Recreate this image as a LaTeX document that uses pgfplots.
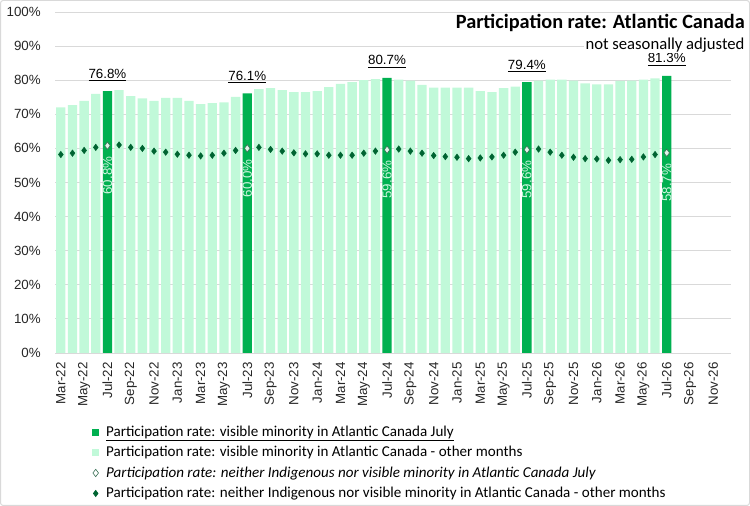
\documentclass[border=0pt]{standalone}
\usepackage{fontspec}
\setmainfont{Carlito}
\newfontfamily\arialf{Liberation Sans}
\usepackage{pgfplots}
\usepackage{pgfplotstable}
\pgfplotsset{compat=1.18}
\definecolor{lightbar}{RGB}{193,249,217}
\definecolor{darkbar}{RGB}{0,176,80}
\definecolor{darkdia}{RGB}{0,100,50}
\definecolor{gridgray}{RGB}{217,217,217}
\definecolor{julydia}{RGB}{222,246,232}
\definecolor{inlbl}{RGB}{205,245,222}

\pgfplotstableread{
x y
0 72.0
1 72.7
2 73.9
3 76.0
5 77.1
6 75.3
7 74.7
8 73.9
9 74.8
10 74.8
11 73.9
12 73.0
13 73.3
14 73.5
15 75.1
17 77.4
18 77.7
19 77.1
20 76.5
21 76.5
22 76.8
23 78.0
24 78.9
25 79.4
26 80.0
27 80.3
29 80.2
30 79.9
31 78.6
32 77.8
33 77.8
34 77.8
35 77.8
36 76.8
37 76.5
38 77.7
39 78.1
41 79.9
42 80.2
43 80.2
44 79.9
45 79.1
46 78.8
47 78.8
48 79.8
49 79.9
50 80.2
51 80.5
}\otherbars

\pgfplotstableread{
x y
4 76.8
16 76.1
28 80.7
40 79.4
52 81.3
}\julybars

\pgfplotstableread{
x y
0 58.2
1 58.6
2 59.4
3 60.3
5 61.0
6 60.3
7 60.0
8 59.2
9 58.9
10 58.3
11 58.0
12 57.8
13 58.0
14 58.6
15 59.4
17 60.3
18 59.7
19 59.2
20 58.7
21 58.4
22 58.4
23 58.0
24 58.0
25 58.0
26 58.6
27 59.2
29 59.8
30 59.2
31 58.6
32 57.9
33 57.6
34 57.4
35 57.0
36 57.2
37 57.5
38 58.0
39 58.9
41 59.8
42 58.9
43 58.0
44 57.4
45 57.0
46 56.9
47 56.5
48 56.7
49 56.8
50 57.5
51 58.2
}\otherdia

\pgfplotstableread{
x y
4 60.8
16 60.0
28 59.6
40 59.6
52 58.7
}\julydiatab

\begin{document}
\begin{tikzpicture}
\begin{axis}[
  at={(41.25pt,114.75pt)}, anchor=south west,
  scale only axis, width=506.85pt, height=255.75pt,
  xmin=-0.5, xmax=57.5, ymin=0, ymax=100,
  axis line style={draw=none},
  tick style={draw=none},
  ymajorgrids, grid style={gridgray, line width=0.6pt},
  ytick={0,10,...,100},
  yticklabel={\pgfmathprintnumber{\tick}\%},
  /pgf/number format/assume math mode=true,
  xtick={0,2,...,56},
  xticklabels={Mar-22,May-22,Jul-22,Sep-22,Nov-22,Jan-23,Mar-23,May-23,Jul-23,Sep-23,Nov-23,Jan-24,Mar-24,May-24,Jul-24,Sep-24,Nov-24,Jan-25,Mar-25,May-25,Jul-25,Sep-25,Nov-25,Jan-26,Mar-26,May-26,Jul-26,Sep-26,Nov-26},
  tick label style={font=\arialf\fontsize{10}{12}\selectfont, text=black!85},
  xticklabel style={rotate=90, anchor=east, inner sep=0pt},
  yticklabel style={anchor=east, inner sep=0pt},
  xticklabel shift=6.75pt,
  yticklabel shift=10.5pt,
  clip=false,
  legend style={at={(0.0547,-0.205)}, anchor=north west, draw=none, fill=none,
    font=\fontsize{11.3}{13.3}\selectfont, row sep=2.0pt, inner sep=0pt,
    /tikz/every odd column/.append style={column sep=3.2pt}},
  legend cell align=left,
]
\addplot[ybar, bar width=0.8, bar shift=0pt, fill=darkbar, draw=none,
  nodes near coords={\underline{\pgfmathprintnumber[fixed,precision=1,fixed zerofill]{\pgfplotspointmeta}\%}},
  every node near coord/.append style={font=\arialf\fontsize{10}{12}\selectfont, text=black, anchor=south, yshift=4pt},
  legend image code/.code={\fill[darkbar] (0pt,-2.6pt) rectangle (5.2pt,2.6pt);}
  ] table {\julybars};
\addlegendentry{\underline{Participation rate: visible minority in Atlantic Canada July}}
\addplot[ybar, bar width=0.8, bar shift=0pt, fill=lightbar, draw=none,
  legend image code/.code={\fill[lightbar] (0pt,-2.6pt) rectangle (5.2pt,2.6pt);}
  ] table {\otherbars};
\addlegendentry{Participation rate: visible minority in Atlantic Canada - other months}
\addplot[only marks, mark=diamond*, mark size=2.8pt,
  mark options={fill=julydia, draw=darkdia!55!gray, line width=0.45pt},
  nodes near coords={\pgfmathprintnumber[fixed,precision=1,fixed zerofill]{\pgfplotspointmeta}\%},
  every node near coord/.append style={font=\arialf\fontsize{10}{12}\selectfont, text=inlbl, rotate=90, anchor=east, inner xsep=8pt},
  legend image code/.code={\draw[mark=diamond*, mark size=2.8pt, mark options={fill=white, draw=darkdia!55!gray, line width=0.45pt}] plot coordinates {(2.6pt,0pt)};}
  ] table {\julydiatab};
\addlegendentry{\textit{Participation rate: neither Indigenous nor visible minority in Atlantic Canada July}}
\addplot[only marks, mark=diamond*, mark size=2.4pt,
  mark options={fill=darkdia, draw=darkdia},
  legend image code/.code={\draw[mark=diamond*, mark size=2.4pt, mark options={fill=darkdia, draw=darkdia}] plot coordinates {(2.6pt,0pt)};}
  ] table {\otherdia};
\addlegendentry{Participation rate: neither Indigenous nor visible minority in Atlantic Canada - other months}
\end{axis}
\begin{scope}[x=0.75pt,y=0.75pt]
\useasboundingbox (0,0) rectangle (750,506);
\draw[gridgray, rounded corners=2pt, line width=0.75pt] (0.5,0.5) rectangle (749.5,505.5);
\node[anchor=base east, inner sep=0pt, font=\bfseries\fontsize{15.2}{18}\selectfont] at (745,477) {Participation rate: Atlantic Canada};
\node[anchor=base east, inner sep=0pt, outer sep=0pt, fill=white, inner xsep=1.5pt, font=\fontsize{12.5}{15}\selectfont] at (746.5,456) {not seasonally adjusted};
\end{scope}
\end{tikzpicture}
\end{document}
